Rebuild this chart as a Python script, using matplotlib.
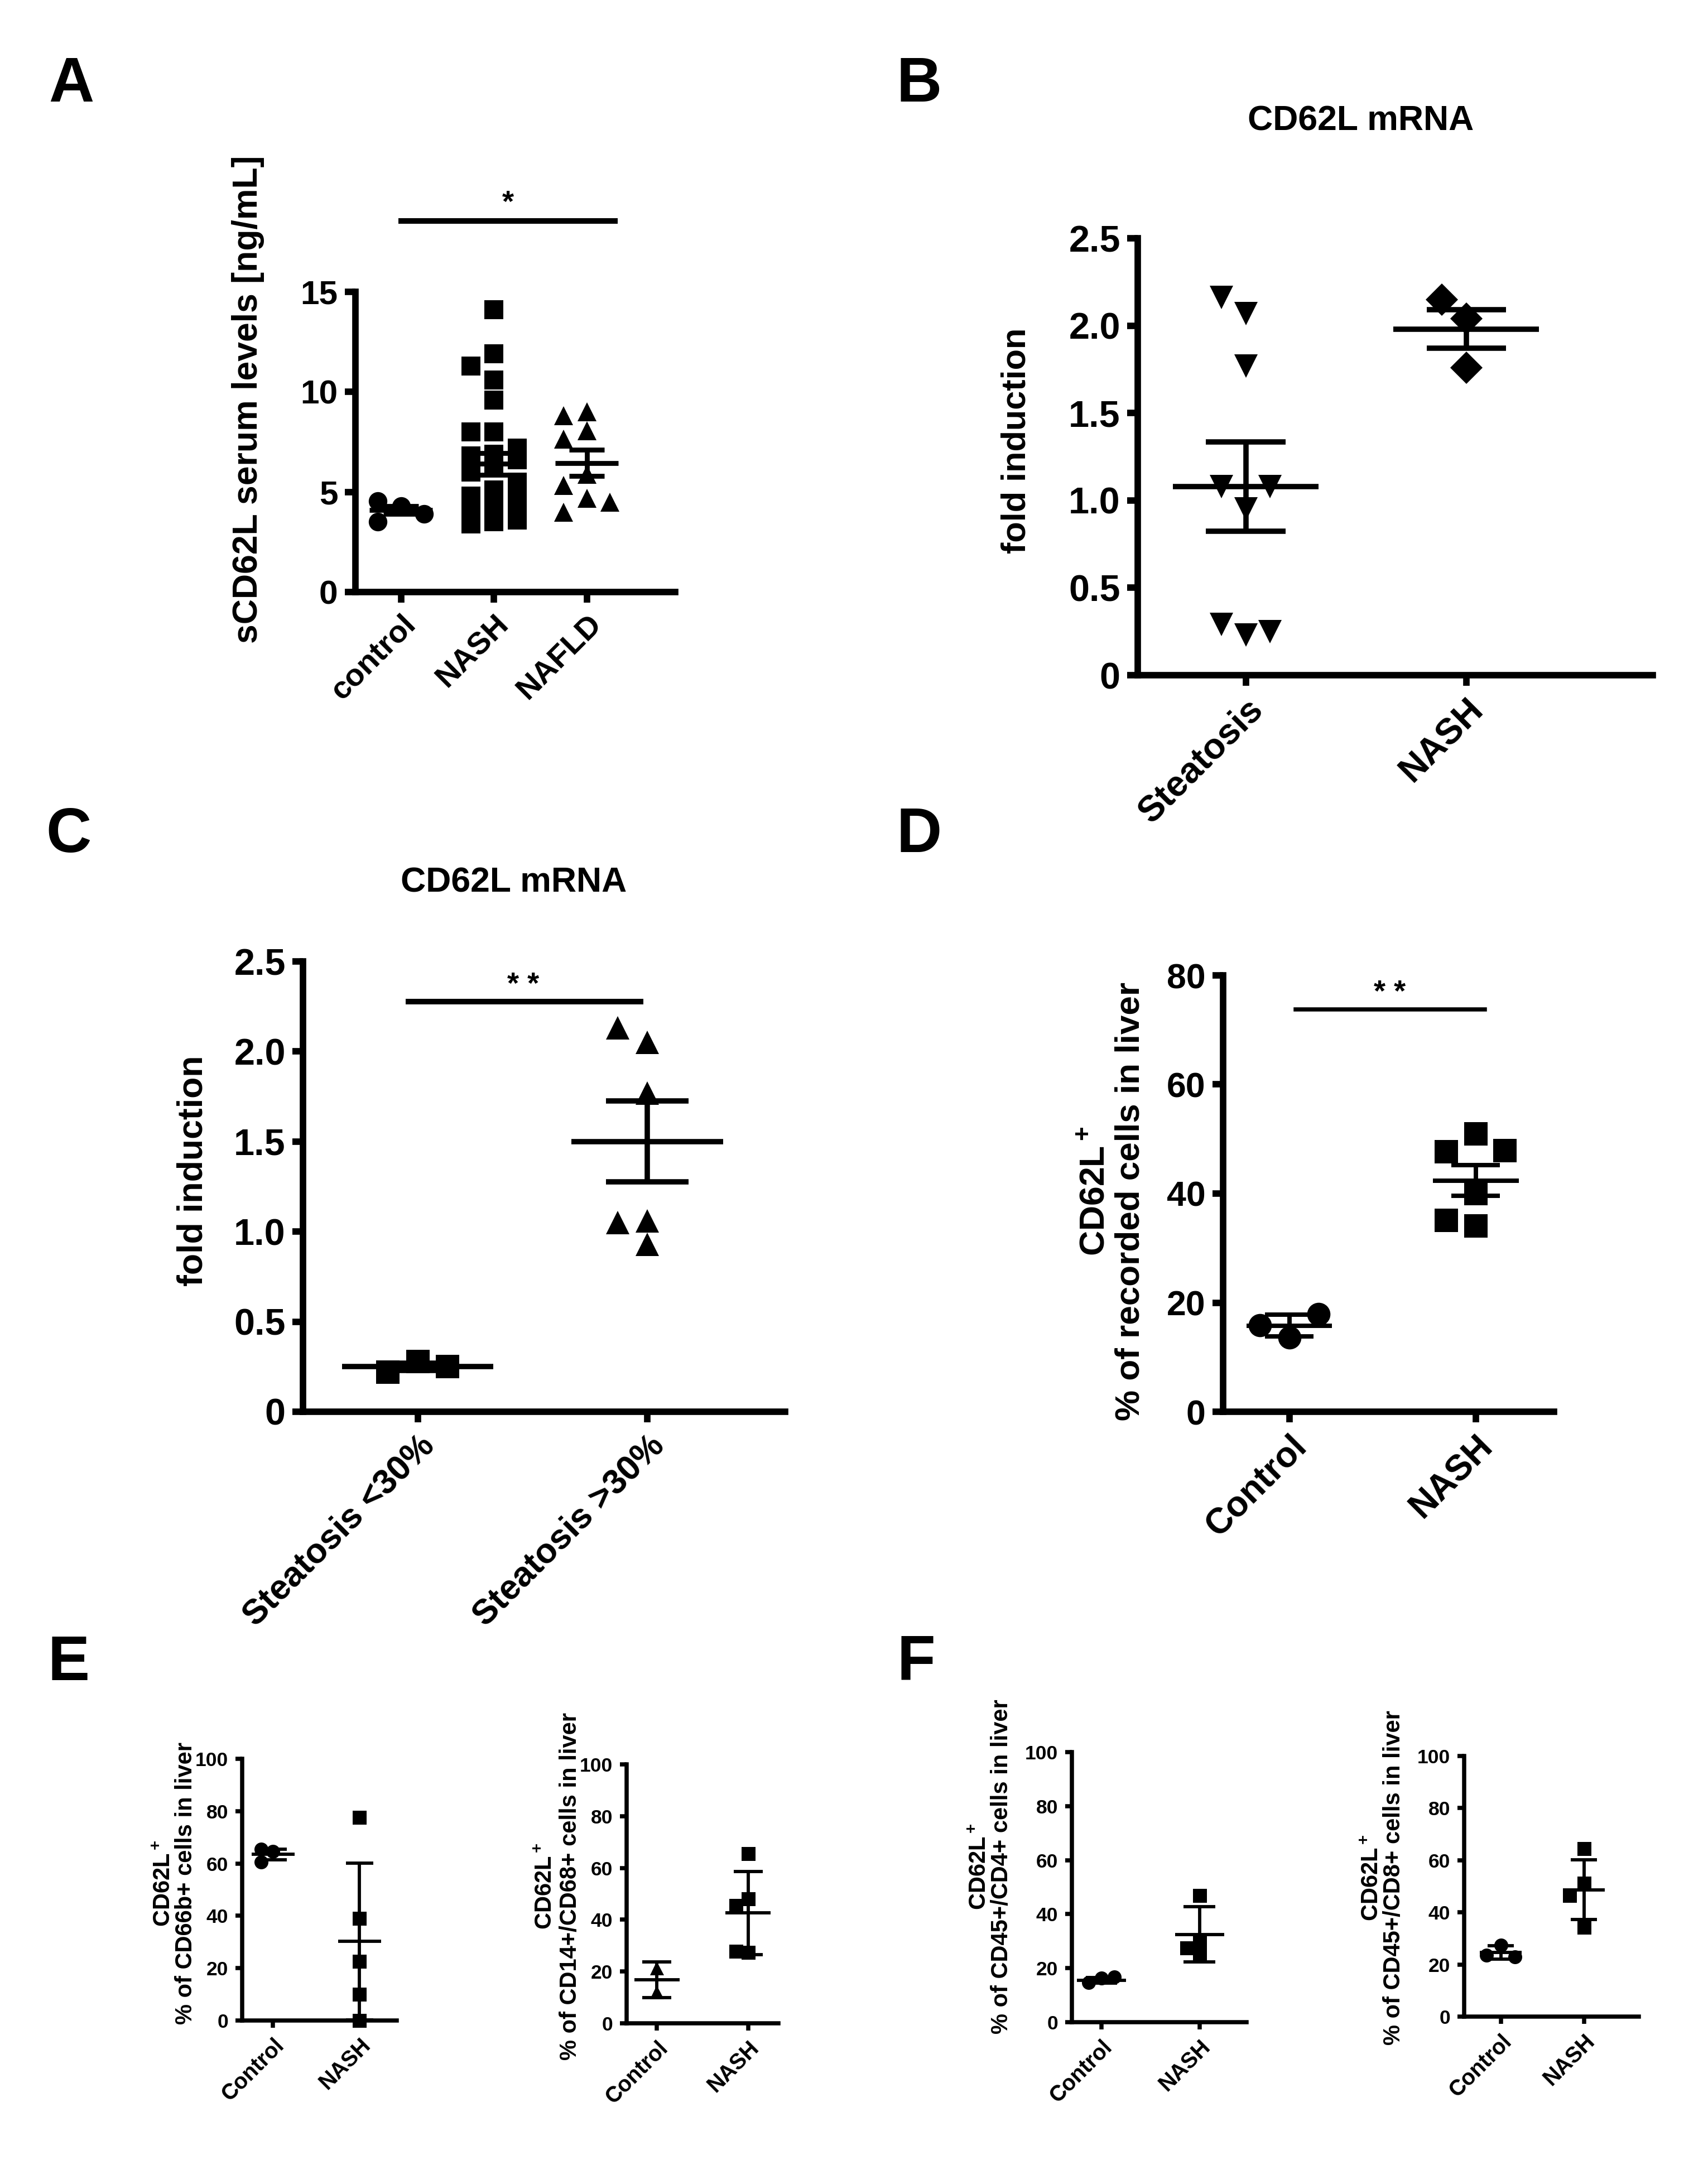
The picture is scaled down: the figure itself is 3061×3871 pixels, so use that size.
# CD62L multi-panel scatter figure (A-F)

import numpy as np
import matplotlib
matplotlib.use('Agg')
import matplotlib.pyplot as plt

plt.rcParams['font.family'] = ['Liberation Sans', 'DejaVu Sans']
plt.rcParams['font.weight'] = 'bold'
plt.rcParams['mathtext.fontset'] = 'custom'
plt.rcParams['mathtext.rm'] = 'Liberation Sans:bold'
plt.rcParams['mathtext.it'] = 'Liberation Sans:bold'
plt.rcParams['mathtext.bf'] = 'Liberation Sans:bold'

NARROW = ['Liberation Sans Narrow', 'Liberation Sans', 'DejaVu Sans']

# ---- data ----
# A: sCD62L serum levels
a_groups = ['control', 'NASH', 'NAFLD']
a_control = [4.3, 4.55, 3.5, 3.9]
a_nash = [14.1, 11.9, 11.3, 10.6, 9.6, 8.0, 8.0, 7.2, 6.9, 6.8, 6.6, 6.3, 6.0,
          5.5, 5.1, 4.8, 4.7, 4.6, 4.4, 4.2, 3.9, 3.7, 3.6, 3.5, 3.4]
a_nafld = [9.0, 8.8, 8.06, 7.64, 5.88, 5.33, 4.68, 4.49, 3.99]
a_mean = [4.1, 6.4, 6.45]
a_err = [0.2, 0.55, 0.65]

# B: CD62L mRNA, steatosis vs NASH
b_groups = ['Steatosis', 'NASH']
b_steatosis = [2.07, 2.16, 1.77, 0.95, 1.08, 1.08, 0.23, 0.29, 0.25]
b_nash = [2.04, 2.15, 1.76]
b_mean = [1.08, 1.98]
b_err = [0.255, 0.11]

# C: CD62L mRNA by steatosis grade
c_groups = ['Steatosis <30%', 'Steatosis >30%']
c_low = [0.28, 0.22, 0.25]
c_high = [2.05, 2.13, 1.77, 1.06, 1.05, 0.93]
c_mean = [0.25, 1.50]
c_err = [0.02, 0.225]

# D: CD62L+ % of recorded cells in liver
d_groups = ['Control', 'NASH']
d_control = [13.6, 15.9, 17.9]
d_nash = [50.9, 47.7, 47.9, 40.0, 34.1, 35.1]
d_mean = [15.8, 42.4]
d_err = [2.0, 2.8]

# E / F: subsets
ef_groups = ['Control', 'NASH']
e1_control = [64.5, 60.5, 65.5]
e1_nash = [77.6, 39.0, 22.6, 10.0, 0.0]
e1_mean = [63.5, 30.2]
e1_err = [2.0, 30.0]

e2_control = [21.3, 12.1]
e2_nash = [65.6, 48.0, 45.4, 27.3, 27.9]
e2_mean = [16.8, 42.6]
e2_err = [6.8, 16.0]

f1_control = [16.3, 14.6, 16.8]
f1_nash = [47.0, 29.7, 27.5, 24.7]
f1_mean = [15.5, 32.5]
f1_err = [1.0, 10.2]

f2_control = [27.5, 23.5, 23.0]
f2_nash = [64.4, 51.1, 46.5, 34.3]
f2_mean = [24.7, 48.7]
f2_err = [2.6, 11.4]

W, H = 3061, 3871
fig = plt.figure(figsize=(W / 300, H / 300), dpi=300)


def rect(x0, y0, x1, y1):
    # pixel box -> figure fraction
    return [x0 / W, 1 - y1 / H, (x1 - x0) / W, (y1 - y0) / H]


def swarm(vals, step, thr):
    # simple column-scatter spreading: centre, left, right
    placed, offs = [], []
    for v in vals:
        best, bestd = 0, -1
        for c in (0, -1, 1):
            d = min([abs(v - pv) for pc, pv in placed if pc == c], default=np.inf)
            if d >= thr:
                best = c
                break
            if d > bestd:
                best, bestd = c, d
        placed.append((best, v))
        offs.append(best * step)
    return np.array(offs)


def draw(ax, groups, markers, means, errs, ms, step, thr, mw, cw, elw):
    for i, (vals, mk) in enumerate(zip(groups, markers)):
        xs = i + swarm(vals, step, thr)
        ax.plot(xs, vals, mk, color='black', ms=ms, ls='none', mew=0,
                clip_on=False, zorder=3)
        m, e = means[i], errs[i]
        ax.hlines(m, i - mw, i + mw, color='black', lw=elw, zorder=4, clip_on=False)
        ax.hlines([m - e, m + e], i - cw, i + cw, color='black', lw=elw, zorder=4,
                  clip_on=False)
        ax.vlines(i, m - e, m + e, color='black', lw=elw, zorder=4, clip_on=False)


def style(ax, xlim, ylim, yticks, yticklabels, xlabels, fs_y, fs_x, slw,
          family=None, ticklen=4.5):
    ax.set_xlim(*xlim)
    ax.set_ylim(*ylim)
    for s in ('top', 'right'):
        ax.spines[s].set_visible(False)
    for s in ('left', 'bottom'):
        ax.spines[s].set_linewidth(slw)
    ax.set_yticks(yticks)
    ax.set_yticklabels(yticklabels, fontsize=fs_y, fontweight='bold',
                       family=family)
    ax.set_xticks(range(len(xlabels)))
    ax.set_xticklabels(xlabels, rotation=45, ha='right', rotation_mode='anchor',
                       fontsize=fs_x, fontweight='bold', family=family)
    ax.tick_params(direction='out', length=ticklen, width=slw, pad=3)
    ax.patch.set_visible(False)


def ylab(x, y, s, fs, family=None):
    fig.text(x / W, 1 - y / H, s, rotation=90, ha='center', va='center',
             fontsize=fs, fontweight='bold', family=family)


def letter(x, y, s):
    fig.text(x / W, 1 - y / H, s, ha='center', va='center', fontsize=27,
             fontweight='bold')


# ---- A ----
ax = fig.add_axes(rect(637, 523, 1210, 1061))
draw(ax, [a_control, a_nash, a_nafld], ['o', 's', '^'], a_mean, a_err,
     ms=8, step=0.25, thr=0.9, mw=0.34, cw=0.19, elw=2.1)
style(ax, (-0.49, 2.95), (0, 15), [0, 5, 10, 15], ['0', '5', '10', '15'],
      a_groups, 14.5, 13.5, 2.8)
ax.plot([0, 2.3], [18.55, 18.55], color='black', lw=2.4, clip_on=False)
ax.text(1.15, 18.7, '*', ha='center', va='bottom', fontsize=13)
ylab(444, 716, 'sCD62L serum levels [ng/mL]', 15)
letter(128, 153, 'A')

# ---- B ----
ax = fig.add_axes(rect(2039, 427, 2962, 1210))
draw(ax, [b_steatosis, b_nash], ['v', 'D'], b_mean, b_err,
     ms=10, step=0.11, thr=0.14, mw=0.33, cw=0.18, elw=2.3)
style(ax, (-0.49, 1.846), (0, 2.5), [0, 0.5, 1.0, 1.5, 2.0, 2.5],
      ['0', '0.5', '1.0', '1.5', '2.0', '2.5'], b_groups, 16, 15.5, 2.8)
fig.text(2439 / W, 1 - 217 / H, 'CD62L mRNA', ha='center', va='center',
         fontsize=15, fontweight='bold')
ylab(1822, 790, 'fold induction', 14.7)
letter(1647, 153, 'B')

# ---- C ----
ax = fig.add_axes(rect(543, 1723, 1407, 2530))
draw(ax, [c_low, c_high], ['s', '^'], c_mean, c_err,
     ms=10, step=0.13, thr=0.127, mw=0.33, cw=0.18, elw=2.3)
style(ax, (-0.5, 1.6), (0, 2.5), [0, 0.5, 1.0, 1.5, 2.0, 2.5],
      ['0', '0.5', '1.0', '1.5', '2.0', '2.5'], c_groups, 16, 15, 2.8)
ax.plot([-0.04, 0.97], [2.277, 2.277], color='black', lw=2.4, clip_on=False)
ax.text(0.46, 2.29, '* *', ha='center', va='bottom', fontsize=13)
fig.text(921 / W, 1 - 1582 / H, 'CD62L mRNA', ha='center', va='center',
         fontsize=15, fontweight='bold')
ylab(346, 2098, 'fold induction', 15)
letter(123, 1498, 'C')

# ---- D ----
ax = fig.add_axes(rect(2192, 1748, 2785, 2530))
draw(ax, [d_control, d_nash], ['o', 's'], d_mean, d_err,
     ms=10, step=0.157, thr=4.3, mw=0.23, cw=0.13, elw=1.9)
style(ax, (-0.355, 1.42), (0, 80), [0, 20, 40, 60, 80],
      ['0', '20', '40', '60', '80'], d_groups, 15, 15.4, 2.8)
ax.plot([0.035, 1.05], [73.8, 73.8], color='black', lw=1.8, clip_on=False)
ax.text(0.54, 74.2, '* *', ha='center', va='bottom', fontsize=13)
ylab(1963, 2135, 'CD62L$^+$', 15)
ylab(2026, 2153, '% of recorded cells in liver', 14.9)
letter(1647, 1498, 'D')

# ---- E / F ----
small = [
    (rect(434, 3152, 711, 3621), e1_control, e1_nash, e1_mean, e1_err, 'o',
     (-0.357, 1.43), 0.14, (294, 333, 3375), '% of CD66b+ cells in liver'),
    (rect(1123, 3162, 1395, 3626), e2_control, e2_nash, e2_mean, e2_err, '^',
     (-0.333, 1.333), 0.13, (978, 1022, 3380), '% of CD14+/CD68+ cells in liver'),
    (rect(1921, 3140, 2234, 3624), f1_control, f1_nash, f1_mean, f1_err, 'o',
     (-0.30, 1.48), 0.13, (1756, 1795, 3345), '% of CD45+/CD4+ cells in liver'),
    (rect(2624, 3147, 2937, 3614), f2_control, f2_nash, f2_mean, f2_err, 'o',
     (-0.44, 1.66), 0.17, (2459, 2498, 3365), '% of CD45+/CD8+ cells in liver'),
]
for r, ctrl, nash, mean, err, cmk, xl, step, (lx1, lx2, ly), lab in small:
    ax = fig.add_axes(r)
    draw(ax, [ctrl, nash], [cmk, 's'], mean, err,
         ms=6, step=step, thr=4.7, mw=0.25, cw=0.16, elw=1.4)
    style(ax, xl, (0, 100), [0, 20, 40, 60, 80, 100],
          ['0', '20', '40', '60', '80', '100'], ef_groups, 8.5, 9.5, 1.8,
          family=NARROW, ticklen=3)
    ylab(lx1, ly, 'CD62L$^+$', 10, family=NARROW)
    ylab(lx2, ly, lab, 10, family=NARROW)

letter(123, 2982, 'E')
letter(1642, 2982, 'F')

plt.savefig('out.png', dpi=300)
